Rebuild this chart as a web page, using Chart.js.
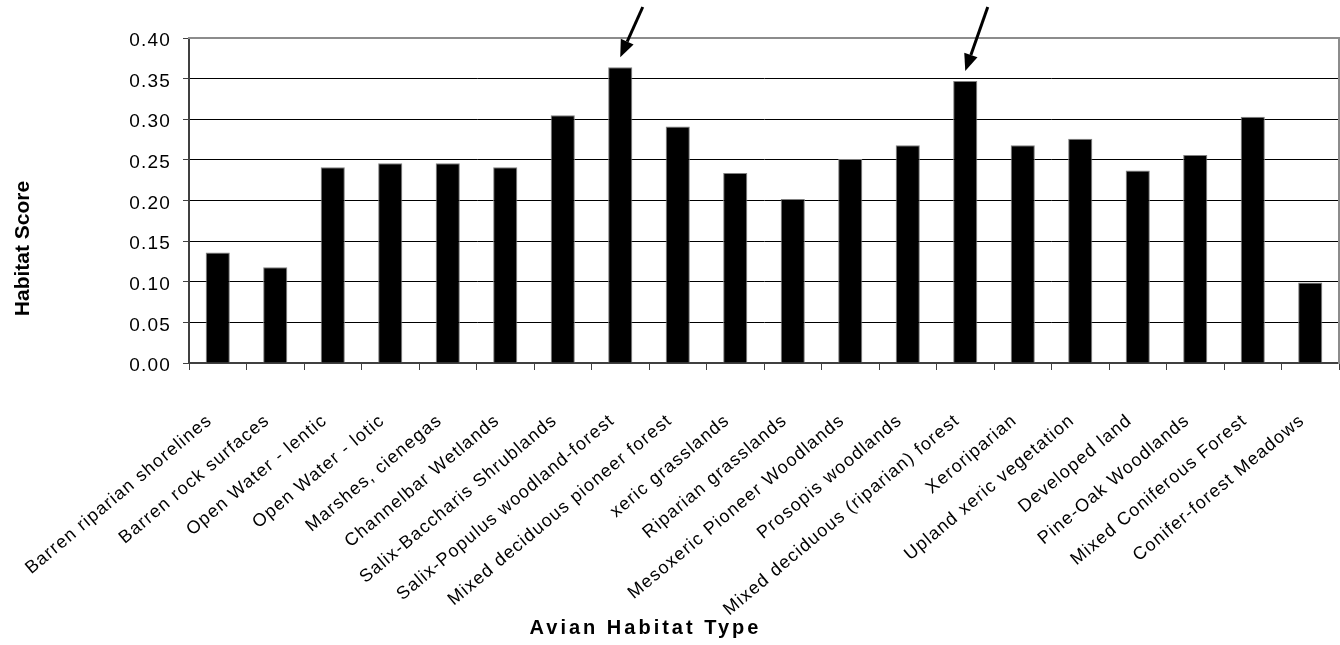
<!DOCTYPE html>
<html>
<head>
<meta charset="utf-8">
<script src="https://cdn.jsdelivr.net/npm/chart.js@4.4.1/dist/chart.umd.min.js"></script>
<style>
  html, body { margin: 0; padding: 0; background: #ffffff; }
  #wrap { width: 1340px; height: 645px; position: relative; }
</style>
</head>
<body>
<div id="wrap"><canvas id="chart"></canvas></div>
<script>
// ---- data ----
const categories = [
  'Barren riparian shorelines',
  'Barren rock surfaces',
  'Open Water - lentic',
  'Open Water - lotic',
  'Marshes, cienegas',
  'Channelbar Wetlands',
  'Salix-Baccharis Shrublands',
  'Salix-Populus woodland-forest',
  'Mixed deciduous pioneer forest',
  'xeric grasslands',
  'Riparian grasslands',
  'Mesoxeric Pioneer Woodlands',
  'Prosopis woodlands',
  'Mixed deciduous (riparian) forest',
  'Xeroriparian',
  'Upland xeric vegetation',
  'Developed land',
  'Pine-Oak Woodlands',
  'Mixed Coniferous Forest',
  'Conifer-forest Meadows'
];
const habitatScores = [
  0.136, 0.118, 0.241, 0.246, 0.246, 0.241, 0.305, 0.364, 0.291, 0.234,
  0.202, 0.251, 0.268, 0.347, 0.268, 0.276, 0.237, 0.256, 0.303, 0.099
];
const yTickValues = [0, 0.05, 0.10, 0.15, 0.20, 0.25, 0.30, 0.35, 0.40];
const yTickLabels = ['0.00', '0.05', '0.10', '0.15', '0.20', '0.25', '0.30', '0.35', '0.40'];
const yAxisTitle = 'Habitat Score';
const xAxisTitle = 'Avian Habitat Type';
const arrowTargets = [7, 13]; // indices of highlighted categories

const FONT = '"Liberation Sans", Arial, Helvetica, sans-serif';

const spacingPlugin = {
  id: 'spacing',
  beforeDraw(chart) { chart.ctx.letterSpacing = '1.2px'; }
};

const titlesPlugin = {
  id: 'titles',
  afterDraw(chart) {
    const ctx = chart.ctx;
    ctx.save();
    ctx.fillStyle = '#000';
    ctx.letterSpacing = '0px';
    ctx.font = 'bold 21px ' + FONT;
    ctx.translate(23, 248.5);
    ctx.rotate(-Math.PI / 2);
    ctx.textAlign = 'center';
    ctx.textBaseline = 'middle';
    ctx.fillText(yAxisTitle, 0, 0);
    ctx.restore();

    ctx.save();
    ctx.fillStyle = '#000';
    ctx.letterSpacing = '3px';
    ctx.font = 'bold 20px ' + FONT;
    ctx.textAlign = 'center';
    ctx.textBaseline = 'alphabetic';
    ctx.fillText(xAxisTitle, 645.5, 634);
    ctx.restore();
  }
};

const arrowsPlugin = {
  id: 'arrows',
  afterDatasetsDraw(chart) {
    const ctx = chart.ctx;
    const meta = chart.getDatasetMeta(0);
    ctx.save();
    ctx.strokeStyle = '#000';
    ctx.fillStyle = '#000';
    ctx.lineWidth = 3;
    arrowTargets.forEach(i => {
      const bar = meta.data[i];
      const tipX = bar.x, tipY = bar.y - 10;
      const tailX = tipX + 22.5, tailY = 7;
      const ang = Math.atan2(tipY - tailY, tipX - tailX);
      const headLen = 17, headHalf = 7;
      const baseX = tipX - headLen * Math.cos(ang);
      const baseY = tipY - headLen * Math.sin(ang);
      ctx.beginPath();
      ctx.moveTo(tailX, tailY);
      ctx.lineTo(baseX, baseY);
      ctx.stroke();
      ctx.beginPath();
      ctx.moveTo(tipX, tipY);
      ctx.lineTo(baseX + headHalf * Math.sin(ang), baseY - headHalf * Math.cos(ang));
      ctx.lineTo(baseX - headHalf * Math.sin(ang), baseY + headHalf * Math.cos(ang));
      ctx.closePath();
      ctx.fill();
    });
    ctx.restore();
  }
};

new Chart(document.getElementById('chart'), {
  type: 'bar',
  data: {
    labels: categories,
    datasets: [{
      data: habitatScores,
      xAxisID: 'x',
      yAxisID: 'y',
      backgroundColor: '#000000',
      borderColor: '#808080',
      borderWidth: 1,
      barPercentage: 0.42,
      categoryPercentage: 1
    }]
  },
  options: {
    responsive: true,
    maintainAspectRatio: false,
    animation: false,
    layout: { padding: { top: 38, right: 1, bottom: 0, left: 0 } },
    plugins: { legend: { display: false }, tooltip: { enabled: false } },
    scales: {
      x: {
        type: 'category',
        position: 'bottom',
        offset: true,
        grid: { display: true, drawOnChartArea: false, drawTicks: true, tickLength: 7, color: '#404040', lineWidth: 1, offset: true },
        border: { display: true, color: '#404040', width: 2 },
        ticks: {
          color: '#000',
          font: { family: FONT, size: 18 },
          minRotation: 40, maxRotation: 40,
          autoSkip: false,
          padding: 40,
          labelOffset: -8
        },
        afterFit(s) { s.height = 282; s.paddingLeft = 0; s.paddingRight = 0; }
      },
      y: {
        type: 'linear',
        position: 'left',
        min: 0, max: 0.4,
        afterBuildTicks(s) { s.ticks = yTickValues.map(v => ({ value: v })); },
        ticks: {
          color: '#000',
          font: { family: FONT, size: 19 },
          padding: 12,
          labelOffset: 3,
          callback: (v, i) => yTickLabels[i]
        },
        grid: {
          color: (c) => (c.tick && c.tick.value >= 0.399) ? 'rgba(0,0,0,0)' : '#000000',
          lineWidth: 1,
          drawTicks: true,
          tickLength: 6,
          tickColor: '#404040'
        },
        border: { display: true, color: '#404040', width: 2 },
        afterFit(s) { s.width = 189; }
      },
      xTop: {
        type: 'category',
        position: 'top',
        grid: { display: true, drawOnChartArea: false, drawTicks: false },
        border: { display: true, color: '#8c8c8c', width: 2 },
        ticks: { display: false },
        afterFit(s) { s.height = 0; s.paddingLeft = 0; s.paddingRight = 0; }
      },
      yRight: {
        type: 'linear',
        position: 'right',
        grid: { display: true, drawOnChartArea: false, drawTicks: false },
        border: { display: true, color: '#8c8c8c', width: 2 },
        ticks: { display: false },
        afterFit(s) { s.width = 0; s.paddingTop = 0; s.paddingBottom = 0; }
      }
    }
  },
  plugins: [spacingPlugin, arrowsPlugin, titlesPlugin]
});
</script>
</body>
</html>
